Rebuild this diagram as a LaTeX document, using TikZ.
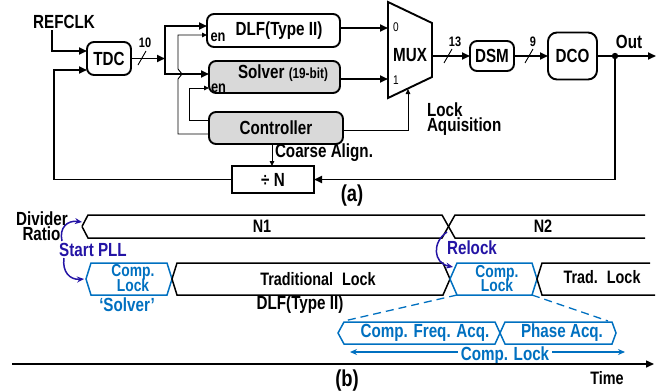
\documentclass[tikz,border=0pt]{standalone}
\usepackage{fontspec}
\setmainfont{Liberation Sans}[FakeStretch=0.8]
\usetikzlibrary{arrows.meta,calc}
\definecolor{lblue}{RGB}{0,112,192}
\definecolor{dblue}{RGB}{36,20,165}
\definecolor{boxgray}{RGB}{217,217,217}
\begin{document}
\begin{tikzpicture}[x=1pt,y=-1pt,
  every node/.style={inner sep=0pt, outer sep=0pt},
  f/.style={font=\fontsize{#1}{#1}\selectfont\bfseries},
  fr/.style={font=\fontsize{#1}{#1}\selectfont},
  upper/.style={text depth=0pt},
  lower/.style={text height=12pt},
  thk/.style={line width=1.9pt},
  thn/.style={line width=0.9pt},
  arr/.style={-{Triangle[length=8pt,width=7pt]}},
  sarr/.style={-{Triangle[length=5pt,width=4.5pt]}},
  box/.style={draw, line width=1.9pt, rounded corners=7pt},
  bus/.style={line width=1.5pt, line join=miter},
  bbus/.style={line width=1.5pt, draw=lblue},
  darr/.style={line width=1.5pt, draw=dblue, -{Stealth[length=7pt,width=6pt]}}
]
\useasboundingbox (0,0) rectangle (668,391);

% ---------------- (a) block diagram ----------------
\node[f=19] (ref) at (64,22) {REFCLK};
\node[box, f=19, minimum width=44pt, minimum height=33pt] (tdc) at (109,58.5) {TDC};
\node[box, minimum width=133pt, minimum height=33pt] (dlf) at (273.5,30.5) {};
\node[f=19] (dlft) at (279,30.5) {DLF(Type II)};
\node[f=16] (dlfen) at (218,37.5) {en};
\node[box, fill=boxgray, minimum width=131pt, minimum height=32pt] (solver) at (274.5,77) {};
\node[f=19, anchor=base] (solvt) at (283,78) {Solver {\fontsize{14.7}{14.7}\selectfont (19-bit)}};
\node[f=16] (solven) at (218.5,88) {en};
\node[box, fill=boxgray, f=19, minimum width=134pt, minimum height=32pt] (ctrl) at (276,128) {Controller};
\node[box, f=19, minimum width=44pt, minimum height=30pt] (dsm) at (492,56) {DSM};
\node[box, f=19, rounded corners=9pt, minimum width=49pt, minimum height=47pt] (dco) at (572.5,56) {DCO};
\node[draw, line width=1.9pt, f=19, minimum width=82pt, minimum height=27pt] (divn) at (273,179.5) {÷ N};

% MUX
\draw[line width=1.9pt, line join=miter] (388,2) -- (432,23) -- (432,77) -- (388,98) -- cycle;
\node[f=19] (mux) at (410,55) {MUX};
\node[fr=12.6] (m0) at (396,27) {0};
\node[fr=12.6] (m1) at (396,80) {1};
\coordinate (mux0) at (388,28);
\coordinate (mux1) at (388,79);
\coordinate (muxout) at (432,56);
\coordinate (muxsel) at (408,89);

% REFCLK -> TDC
\coordinate (refdn) at (52,30);
\draw[thk,arr] (refdn) |- ($(tdc.west)+(0,-7.5)$);
% TDC -> junction -> DLF / Solver
\coordinate (jn) at (165,58.5);
\draw[thk,arr] (tdc.east) -- (jn);
\draw[thk,arr] (jn) |- ($(dlf.west)+(0,-4.5)$);
\draw[thk,arr] (jn) |- ($(solver.west)+(0,-3)$);
\draw[thn] (138,65) -- (146,51);
\node[f=13.7] (b10) at (145,42.5) {10};

% Controller enables
\draw[thn,sarr] ($(ctrl.west)+(0,6)$) -- (178,134) -- (178,79) -- (182,74) -- (178,69) |- ($(dlf.west)+(0,4.5)$);
\draw[thn,sarr] ($(ctrl.west)+(0,-8)$) -- (189,120) |- ($(solver.west)+(0,11)$);

% to MUX
\draw[thk,arr] ($(dlf.east)+(0,-2.5)$) -- (mux0);
\draw[thk,arr] ($(solver.east)+(0,2)$) -- (mux1);
\draw[thn,sarr] ($(ctrl.east)+(0,2)$) -| (muxsel);
\node[f=19, upper, anchor=base west] (lock) at (427,116.5) {Lock};
\node[f=19, lower, anchor=base west] (aqu) at (427,131.5) {Aquisition};

% MUX -> DSM -> DCO -> Out
\draw[thk,arr] (muxout) -- (dsm.west);
\draw[thn] (444,63) -- (452,49);
\node[f=13.7] (b13) at (455,42) {13};
\draw[thk,arr] (dsm.east) -- (dco.west);
\draw[thn] (525,63) -- (533,49);
\node[f=13.7] (b9) at (533,42) {9};
\coordinate (outc) at (656,56);
\coordinate (odot) at (615,56);
\draw[thk,arr] (dco.east) -- (outc);
\fill (odot) circle (3.2pt);
\node[f=19] (outl) at (629,42) {Out};

% feedback
\draw[thk,arr] (odot) |- (divn.east);
\coordinate (fbl) at (54,179.5);
\draw[thk,arr] (divn.west) -- (fbl) |- ($(tdc.west)+(0,11.5)$);
\draw[thn,sarr] ($(ctrl.south)+(-4,0)$) -- ($(divn.north)+(-1,0)$);
\node[f=19] (coarse) at (324,153) {Coarse Align.};
\node[f=23] (la) at (352,196) {(a)};

% ---------------- (b) timing diagram ----------------
\node[f=19, upper, anchor=base] (divr) at (42,225) {Divider};
\node[f=19, lower, anchor=base] (ratio) at (41.5,240) {Ratio};
% row 1
\draw[bus] (82,226.5) -- (88,215) -- (442,215) -- (455,238) -- (645,238);
\draw[bus] (82,226.5) -- (88,238) -- (442,238) -- (455,215) -- (645,215);
\node[f=18] (n1) at (262,226.5) {N1};
\node[f=18] (n2) at (543,226.5) {N2};
\node[f=19, text=dblue] (spll) at (93,250) {Start PLL};
\draw[darr] (62,241) .. controls (59,228) and (67,220) .. (82,222);
\draw[darr] (64,258) .. controls (62,272) and (70,280) .. (84,279);
% row 2
\draw[bbus] (86,279) -- (91,263) -- (167,263) -- (172,279) -- (167,295) -- (91,295) -- cycle;
\draw[bus] (172,279) -- (177,263) -- (443,263) -- (450,279) -- (443,295) -- (177,295) -- cycle;
\draw[bbus] (450,279) -- (457,263) -- (532,263) -- (537,279) -- (532,295) -- (457,295) -- cycle;
\draw[bus] (650,263) -- (542,263) -- (537,279) -- (542,295) -- (655,295);
\node[f=17.3, upper, text=lblue, anchor=base] (cl1a) at (133,276.5) {Comp.};
\node[f=17.3, lower, text=lblue, anchor=base] (cl1b) at (133,291.5) {Lock};
\node[f=19, text=lblue] (solq) at (127,305) {‘Solver’};
\node[f=18] (trad) at (318,279) {Traditional\enspace Lock};
\node[f=19] (dlfb) at (300,305) {DLF(Type II)};
\node[f=17.3, upper, text=lblue, anchor=base] (cl2a) at (497,277.5) {Comp.};
\node[f=17.3, lower, text=lblue, anchor=base] (cl2b) at (497,291.5) {Lock};
\node[f=18] (trad2) at (602,277) {Trad.\enspace Lock};
\node[f=19, text=dblue] (relock) at (472,248) {Relock};
\draw[darr] (447,232) .. controls (432,242) and (433,263) .. (453,267);
% zoom lines
\draw[lblue, line width=1.3pt, dash pattern=on 8pt off 5pt] (457,295) -- (344,321);
\draw[lblue, line width=1.3pt, dash pattern=on 8pt off 5pt] (532,295) -- (608,321);
% row 3
\draw[bbus] (338,333) -- (344,322) -- (495,322) -- (500,333) -- (495,344) -- (344,344) -- cycle;
\draw[bbus] (500,333) -- (505,322) -- (612,322) -- (616,333) -- (612,344) -- (505,344) -- cycle;
\node[f=19, text=lblue] (cfa) at (425,333) {Comp. Freq. Acq.};
\node[f=19, text=lblue] (pha) at (562,333) {Phase Acq.};
\coordinate (cla) at (350,352);
\coordinate (clb) at (625,352);
\draw[lblue, line width=1.3pt, {Stealth[length=7pt,width=6pt]}-{Stealth[length=7pt,width=6pt]}] (cla) -- (clb);
\node[f=19, text=lblue, fill=white, inner xsep=3pt, anchor=base] (cl3) at (505,360.5) {Comp. Lock};
% time axis
\coordinate (ta) at (12,364);
\coordinate (tb) at (654,364);
\draw[line width=1.5pt, arr] (ta) -- (tb);
\node[f=18] (time) at (607,378) {Time};
\node[f=23] (lb) at (347,381) {(b)};
\end{tikzpicture}
\end{document}
